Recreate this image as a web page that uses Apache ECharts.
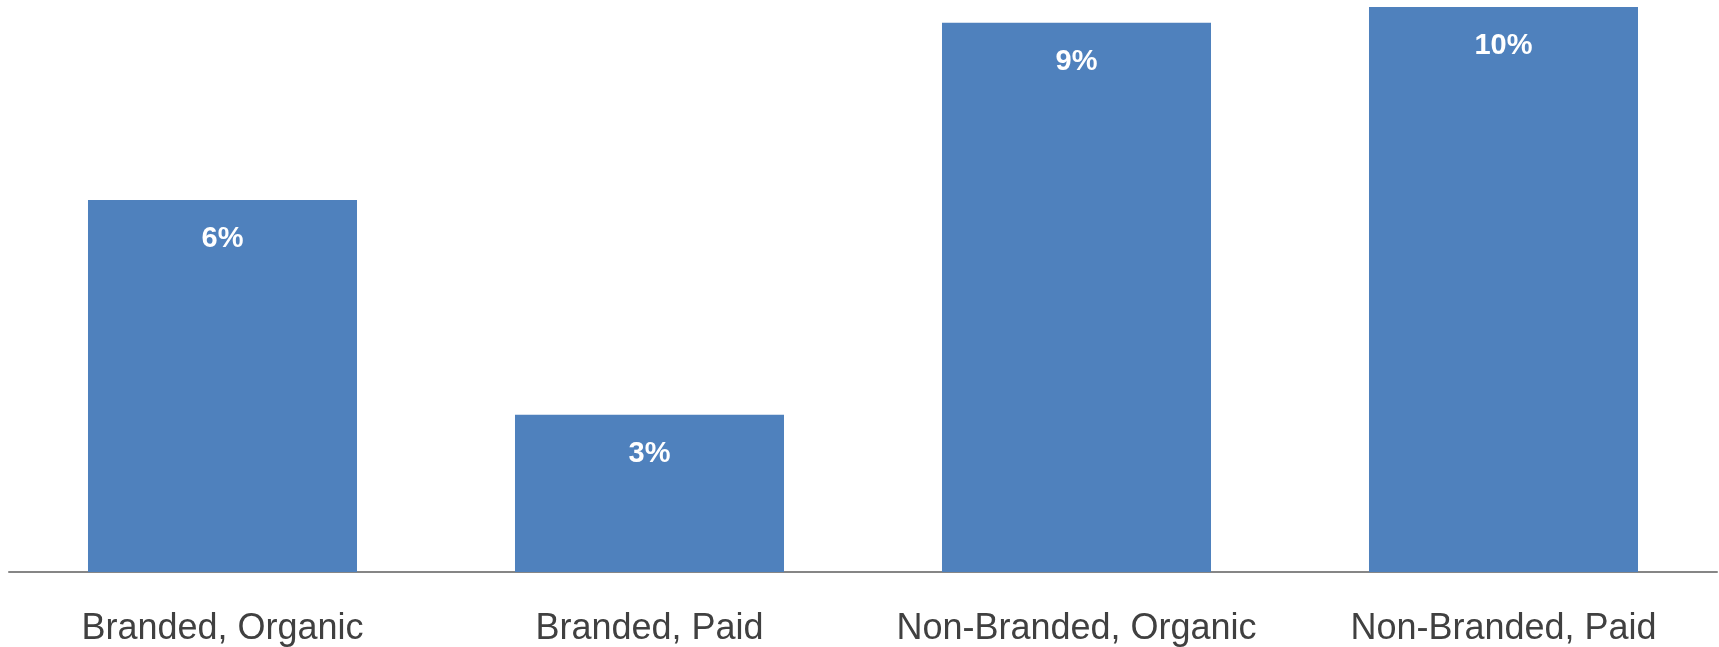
<!DOCTYPE html>
<html>
<head>
<meta charset="utf-8">
<title>Share by search type</title>
<script src="https://cdn.jsdelivr.net/npm/echarts@6/dist/echarts.min.js"></script>
<style>
  html, body { margin: 0; padding: 0; background: #ffffff; }
  #chart { width: 1719px; height: 647px; }
</style>
</head>
<body>
<div id="chart"></div>
<script>
// Search traffic segments and their shares
const categories = ['Branded, Organic', 'Branded, Paid', 'Non-Branded, Organic', 'Non-Branded, Paid'];
const shares = [0.0632, 0.0267, 0.0933, 0.096];

const FONT = 'Arial, "Liberation Sans", sans-serif';

const chart = echarts.init(document.getElementById('chart'), null, { renderer: 'canvas' });

chart.setOption({
  backgroundColor: '#ffffff',
  animation: false,
  grid: { left: 9, right: 2, top: 1, bottom: 75, containLabel: false },
  xAxis: {
    type: 'category',
    data: categories,
    axisLine: { show: true, lineStyle: { color: '#868686', width: 2 } },
    axisTick: { show: false },
    axisLabel: {
      color: '#404040',
      fontFamily: FONT,
      fontSize: 36,
      margin: 39,
      interval: 0
    }
  },
  yAxis: {
    type: 'value',
    min: 0,
    max: 0.097,
    show: false,
    splitLine: { show: false }
  },
  series: [{
    type: 'bar',
    data: shares,
    barCategoryGap: '37%',
    itemStyle: { color: '#4F81BD' },
    label: {
      show: true,
      position: 'insideTop',
      distance: 25,
      color: '#ffffff',
      fontFamily: FONT,
      fontWeight: 'bold',
      fontSize: 29,
      formatter: p => Math.round(p.value * 100) + '%'
    }
  }]
});
</script>
</body>
</html>
